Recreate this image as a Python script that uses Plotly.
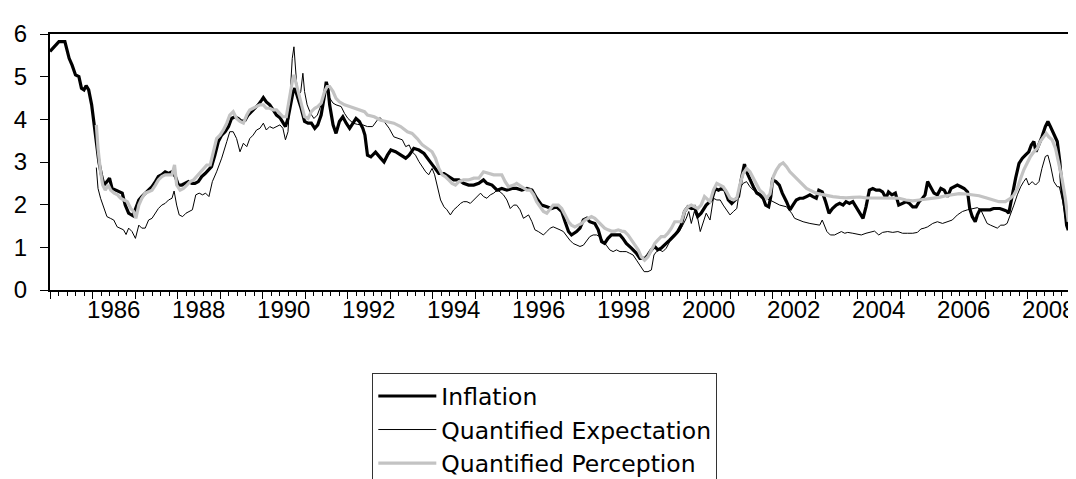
import plotly.graph_objects as go

# Inflation, survey-based quantified expectation and perception (monthly, % y/y)
# x values are decimal years

infl_t = [1985.00, 1985.21, 1985.35, 1985.45, 1985.52, 1985.60, 1985.68, 1985.74, 1985.80, 1985.85,
          1985.91, 1985.98, 1986.03, 1986.09, 1986.15, 1986.21, 1986.27, 1986.34, 1986.40, 1986.46,
          1986.54, 1986.62, 1986.70, 1986.77, 1986.85, 1986.95, 1987.01, 1987.09, 1987.16, 1987.24,
          1987.32, 1987.40, 1987.48, 1987.55, 1987.63, 1987.71, 1987.79, 1987.87, 1987.95, 1988.02,
          1988.10, 1988.18, 1988.26, 1988.34, 1988.41, 1988.49, 1988.57, 1988.65, 1988.73, 1988.80,
          1988.88, 1988.96, 1989.04, 1989.12, 1989.20, 1989.27, 1989.35, 1989.43, 1989.51, 1989.59,
          1989.66, 1989.74, 1989.82, 1989.90, 1989.98, 1990.02, 1990.09, 1990.17, 1990.25, 1990.33,
          1990.41, 1990.48, 1990.54, 1990.60, 1990.66, 1990.72, 1990.76, 1990.84, 1990.91, 1990.99,
          1991.07, 1991.15, 1991.23, 1991.30, 1991.38, 1991.46, 1991.50, 1991.54, 1991.58, 1991.66,
          1991.73, 1991.81, 1991.89, 1991.97, 1992.05, 1992.13, 1992.20, 1992.28, 1992.36, 1992.41,
          1992.47, 1992.55, 1992.66, 1992.78, 1992.86, 1992.94, 1993.02, 1993.13, 1993.25, 1993.37,
          1993.45, 1993.56, 1993.68, 1993.80, 1993.91, 1994.03, 1994.15, 1994.27, 1994.38, 1994.50,
          1994.62, 1994.73, 1994.85, 1994.97, 1995.09, 1995.20, 1995.28, 1995.40, 1995.52, 1995.63,
          1995.75, 1995.87, 1995.98, 1996.10, 1996.22, 1996.34, 1996.45, 1996.57, 1996.69, 1996.80,
          1996.92, 1997.04, 1997.12, 1997.20, 1997.27, 1997.39, 1997.47, 1997.55, 1997.63, 1997.70,
          1997.82, 1997.90, 1997.98, 1998.05, 1998.13, 1998.21, 1998.29, 1998.41, 1998.48, 1998.56,
          1998.68, 1998.80, 1998.88, 1999.00, 1999.07, 1999.15, 1999.23, 1999.30, 1999.38, 1999.46,
          1999.58, 1999.70, 1999.77, 1999.85, 1999.93, 2000.01, 2000.09, 2000.16, 2000.24, 2000.32,
          2000.44, 2000.57, 2000.65, 2000.73, 2000.80, 2000.88, 2000.96, 2001.04, 2001.12, 2001.20,
          2001.27, 2001.34, 2001.39, 2001.47, 2001.55, 2001.63, 2001.70, 2001.78, 2001.84, 2001.91,
          2001.96, 2002.00, 2002.08, 2002.16, 2002.23, 2002.33, 2002.41, 2002.48, 2002.56, 2002.64,
          2002.72, 2002.80, 2002.88, 2002.95, 2003.03, 2003.09, 2003.17, 2003.25, 2003.33, 2003.41,
          2003.50, 2003.58, 2003.66, 2003.73, 2003.81, 2003.89, 2003.97, 2004.05, 2004.13, 2004.20,
          2004.28, 2004.36, 2004.44, 2004.52, 2004.59, 2004.67, 2004.73, 2004.81, 2004.89, 2004.97,
          2005.06, 2005.14, 2005.22, 2005.30, 2005.38, 2005.45, 2005.53, 2005.59, 2005.65, 2005.73,
          2005.80, 2005.88, 2005.96, 2006.04, 2006.12, 2006.20, 2006.27, 2006.35, 2006.43, 2006.51,
          2006.59, 2006.64, 2006.70, 2006.77, 2006.82, 2006.88, 2006.96, 2007.04, 2007.12, 2007.20,
          2007.27, 2007.35, 2007.43, 2007.51, 2007.56, 2007.64, 2007.72, 2007.80, 2007.88, 2007.95,
          2008.03, 2008.09, 2008.15, 2008.20, 2008.27, 2008.34, 2008.42, 2008.48, 2008.54, 2008.62,
          2008.70, 2008.76, 2008.81, 2008.88, 2008.92, 2008.96]
infl_v = [5.59, 5.82, 5.82, 5.43, 5.27, 5.04, 5.00, 4.73, 4.69, 4.79,
          4.69, 4.34, 3.95, 3.48, 3.00, 2.70, 2.46, 2.54, 2.62, 2.38,
          2.34, 2.30, 2.27, 1.99, 1.80, 1.74, 1.91, 2.11, 2.19, 2.27,
          2.34, 2.42, 2.54, 2.66, 2.70, 2.77, 2.73, 2.77, 2.66, 2.46,
          2.46, 2.50, 2.54, 2.50, 2.50, 2.54, 2.66, 2.73, 2.81, 2.89,
          3.16, 3.48, 3.63, 3.71, 3.83, 4.02, 4.06, 4.02, 3.95, 3.98,
          4.10, 4.18, 4.26, 4.34, 4.45, 4.51, 4.41, 4.34, 4.22, 4.10,
          4.04, 3.91, 3.83, 4.02, 4.34, 4.65, 4.73, 4.49, 4.26, 3.95,
          3.91, 3.91, 3.79, 3.87, 4.10, 4.57, 4.88, 4.73, 4.34, 3.87,
          3.67, 3.95, 4.06, 3.91, 3.79, 3.91, 4.02, 3.95, 3.79, 3.63,
          3.16, 3.12, 3.23, 3.09, 3.00, 3.16, 3.28, 3.24, 3.16, 3.09,
          3.16, 3.32, 3.28, 3.20, 3.05, 2.89, 2.73, 2.73, 2.66, 2.58,
          2.58, 2.50, 2.46, 2.46, 2.50, 2.58, 2.50, 2.46, 2.34, 2.38,
          2.34, 2.38, 2.38, 2.34, 2.38, 2.34, 2.15, 1.99, 1.95, 1.91,
          1.95, 1.84, 1.60, 1.37, 1.29, 1.37, 1.45, 1.64, 1.68, 1.60,
          1.56, 1.41, 1.13, 1.09, 1.21, 1.29, 1.29, 1.29, 1.21, 1.09,
          0.98, 0.86, 0.74, 0.74, 0.82, 0.94, 1.02, 0.94, 0.98, 1.05,
          1.17, 1.29, 1.37, 1.52, 1.84, 1.95, 1.91, 1.95, 1.72, 1.80,
          1.99, 2.11, 2.38, 2.34, 2.38, 2.34, 2.11, 2.03, 2.11, 2.19,
          2.62, 2.95, 2.77, 2.58, 2.42, 2.27, 2.23, 2.15, 1.99, 1.95,
          2.19, 2.58, 2.54, 2.46, 2.27, 2.07, 1.88, 1.99, 2.11, 2.15,
          2.15, 2.19, 2.23, 2.19, 2.15, 2.34, 2.30, 2.07, 1.80, 1.91,
          1.99, 2.03, 1.99, 2.07, 2.03, 2.07, 1.95, 1.80, 1.68, 1.95,
          2.34, 2.38, 2.34, 2.34, 2.30, 2.15, 2.30, 2.23, 2.27, 1.99,
          2.03, 2.07, 2.03, 1.95, 1.95, 2.07, 2.15, 2.23, 2.54, 2.38,
          2.27, 2.23, 2.38, 2.34, 2.19, 2.38, 2.42, 2.46, 2.42, 2.38,
          2.30, 1.91, 1.72, 1.60, 1.76, 1.88, 1.88, 1.88, 1.88, 1.91,
          1.91, 1.91, 1.88, 1.85, 1.80, 2.23, 2.62, 2.97, 3.09, 3.16,
          3.24, 3.40, 3.48, 3.24, 3.40, 3.59, 3.83, 3.95, 3.83, 3.67,
          3.48, 3.01, 2.38, 1.91, 1.52, 1.40]

expc_t = [1986.09, 1986.13, 1986.19, 1986.27, 1986.34, 1986.42, 1986.50, 1986.58, 1986.66, 1986.73,
          1986.79, 1986.85, 1986.93, 1987.01, 1987.09, 1987.16, 1987.24, 1987.32, 1987.40, 1987.48,
          1987.55, 1987.63, 1987.71, 1987.79, 1987.87, 1987.92, 1987.98, 1988.04, 1988.12, 1988.20,
          1988.27, 1988.35, 1988.43, 1988.51, 1988.59, 1988.66, 1988.74, 1988.82, 1988.92, 1989.04,
          1989.16, 1989.23, 1989.31, 1989.39, 1989.47, 1989.55, 1989.63, 1989.70, 1989.78, 1989.86,
          1989.94, 1990.02, 1990.09, 1990.17, 1990.25, 1990.33, 1990.41, 1990.48, 1990.54, 1990.60,
          1990.66, 1990.70, 1990.74, 1990.80, 1990.85, 1990.90, 1990.95, 1990.99, 1991.05, 1991.13,
          1991.21, 1991.29, 1991.38, 1991.46, 1991.50, 1991.56, 1991.66, 1991.73, 1991.85, 1991.93,
          1992.01, 1992.13, 1992.24, 1992.36,
          1992.47, 1992.59, 1992.70, 1992.76, 1992.86, 1992.98, 1993.09, 1993.21, 1993.29, 1993.37,
          1993.45, 1993.52, 1993.60, 1993.68, 1993.76, 1993.84, 1993.91, 1993.99, 1994.05, 1994.11,
          1994.19, 1994.27, 1994.34, 1994.42, 1994.50, 1994.58, 1994.66, 1994.73, 1994.81, 1994.89,
          1994.97, 1995.05, 1995.13, 1995.20, 1995.28, 1995.36, 1995.44, 1995.52, 1995.59, 1995.67,
          1995.75, 1995.83, 1995.91, 1995.98, 1996.06, 1996.14, 1996.26, 1996.34, 1996.41, 1996.49,
          1996.61, 1996.69, 1996.77, 1996.84, 1996.92, 1997.00, 1997.08, 1997.16, 1997.23, 1997.31,
          1997.39, 1997.47, 1997.55, 1997.63, 1997.70, 1997.78, 1997.86, 1997.94, 1998.02, 1998.09,
          1998.17, 1998.25, 1998.33, 1998.41, 1998.48, 1998.56, 1998.64, 1998.72, 1998.80, 1998.88,
          1998.98, 1999.07, 1999.15, 1999.21, 1999.27, 1999.34, 1999.42, 1999.50, 1999.58, 1999.66,
          1999.73, 1999.81, 1999.89, 1999.97, 2000.03, 2000.09, 2000.16, 2000.24, 2000.30, 2000.38,
          2000.44,
          2000.53, 2000.61, 2000.69, 2000.77, 2000.84, 2000.92, 2001.00, 2001.08, 2001.16, 2001.23,
          2001.31, 2001.39, 2001.47, 2001.55, 2001.63, 2001.70, 2001.78, 2001.86, 2001.94, 2002.02,
          2002.17, 2002.33, 2002.45, 2002.52, 2002.72, 2002.88, 2003.03, 2003.11, 2003.17, 2003.23,
          2003.28, 2003.36, 2003.46, 2003.54, 2003.62, 2003.70, 2003.77, 2003.89, 2004.01, 2004.09,
          2004.20, 2004.32, 2004.40, 2004.50, 2004.59, 2004.71, 2004.83, 2004.95, 2005.06, 2005.18,
          2005.30, 2005.41, 2005.49, 2005.57, 2005.65, 2005.77, 2005.88, 2006.00, 2006.12, 2006.23,
          2006.35, 2006.47, 2006.59, 2006.70, 2006.82, 2006.90, 2006.98, 2007.05, 2007.13, 2007.21,
          2007.29, 2007.37, 2007.45, 2007.52, 2007.60, 2007.68, 2007.76, 2007.84, 2007.91, 2007.97,
          2008.03, 2008.11, 2008.19, 2008.27, 2008.34, 2008.42, 2008.48, 2008.54, 2008.62, 2008.70,
          2008.75, 2008.83, 2008.89, 2008.96]
expc_v = [2.87, 2.38, 2.15, 1.91, 1.72, 1.68, 1.64, 1.48, 1.45, 1.41,
          1.30, 1.45, 1.37, 1.21, 1.52, 1.45, 1.45, 1.64, 1.68, 1.80,
          1.91, 1.99, 2.03, 2.11, 2.15, 2.32, 1.99, 1.76, 1.72, 1.80,
          1.84, 1.88, 2.23, 2.27, 2.23, 2.27, 2.19, 2.54, 2.77, 3.09,
          3.48, 3.71, 3.71, 3.55, 3.24, 3.44, 3.36, 3.55, 3.63, 3.75,
          3.79, 3.91, 3.75, 3.83, 3.79, 3.83, 3.87, 3.79, 3.52, 3.71,
          4.73, 5.43, 5.70, 4.88, 4.57, 4.65, 5.08, 4.65, 4.34, 4.14,
          4.02, 4.10, 4.34, 4.65, 4.73, 4.53, 4.38, 4.34, 4.30, 4.14,
          4.02, 3.91, 3.88, 3.87,
          3.83, 3.83, 3.98, 4.04, 3.95, 3.79, 3.59, 3.55, 3.52, 3.36,
          3.40, 3.24, 3.16, 3.01, 2.89, 2.77, 2.70, 2.85, 2.70, 2.46,
          2.11, 1.95, 1.88, 1.76, 1.88, 1.95, 2.03, 2.07, 2.07, 2.03,
          2.11, 2.19, 2.27, 2.19, 2.15, 2.23, 2.27, 2.34, 2.30, 2.23,
          2.11, 1.91, 1.99, 1.99, 1.88, 1.68, 1.76, 1.60, 1.41, 1.37,
          1.29, 1.37, 1.45, 1.48, 1.45, 1.41, 1.37, 1.25, 1.17, 1.09,
          1.05, 1.02, 1.05, 1.17, 1.25, 1.29, 1.29, 1.25, 1.13, 1.05,
          0.94, 0.90, 0.94, 0.90, 0.90, 0.90, 0.86, 0.82, 0.70, 0.59,
          0.43, 0.43, 0.47, 0.82, 0.90, 0.94, 0.90, 0.98, 1.13, 1.21,
          1.29, 1.37, 1.52, 1.68, 1.84, 1.56, 1.84, 1.68, 1.37, 1.60,
          1.80,
          1.64, 2.15, 2.11, 2.11, 1.99, 1.88, 1.76, 1.84, 1.91, 2.38,
          2.50, 2.54, 2.42, 2.34, 2.30, 2.27, 2.19, 2.15, 2.11, 2.07,
          1.99, 1.95, 1.80, 1.68, 1.60, 1.56, 1.54, 1.52, 1.64, 1.48,
          1.37, 1.29, 1.29, 1.33, 1.37, 1.33, 1.35, 1.33, 1.30, 1.29,
          1.33, 1.35, 1.38, 1.29, 1.35, 1.37, 1.35, 1.37, 1.33, 1.33,
          1.33, 1.35, 1.43, 1.45, 1.48, 1.56, 1.60, 1.56, 1.60, 1.64,
          1.76, 1.84, 1.88, 1.91, 1.93, 1.88, 1.72, 1.56, 1.52, 1.48,
          1.45, 1.52, 1.52, 1.56, 1.76, 1.99, 2.23, 2.42, 2.54, 2.62,
          2.46, 2.54, 2.46, 2.54, 2.85, 3.13, 3.16, 2.93, 2.54, 2.42,
          2.42, 2.07, 1.68, 1.41]

perc_t = [1986.09, 1986.13, 1986.19, 1986.24, 1986.30, 1986.37, 1986.43, 1986.51, 1986.59, 1986.66,
          1986.74, 1986.82, 1986.90, 1986.97, 1987.02, 1987.09, 1987.16, 1987.24, 1987.32, 1987.40,
          1987.48, 1987.55, 1987.63, 1987.71, 1987.79, 1987.87, 1987.93, 1987.98, 1988.06, 1988.14,
          1988.22, 1988.30, 1988.38, 1988.45, 1988.53, 1988.61, 1988.69, 1988.77, 1988.84, 1988.92,
          1989.00, 1989.08, 1989.16, 1989.23, 1989.31, 1989.39, 1989.47, 1989.55, 1989.63, 1989.70,
          1989.78, 1989.86, 1989.94, 1990.02, 1990.09, 1990.17, 1990.25, 1990.33, 1990.41, 1990.48,
          1990.56, 1990.64, 1990.70, 1990.74, 1990.80, 1990.85, 1990.91, 1990.99, 1991.07, 1991.15,
          1991.23, 1991.30, 1991.38, 1991.46, 1991.52, 1991.58, 1991.66, 1991.73, 1991.81, 1991.93,
          1992.05, 1992.16, 1992.28, 1992.40,
          1992.47, 1992.63, 1992.78, 1992.94, 1993.09, 1993.25, 1993.41, 1993.52, 1993.64, 1993.76,
          1993.88, 1993.99, 1994.07, 1994.15, 1994.23, 1994.30, 1994.38, 1994.46, 1994.54, 1994.62,
          1994.73, 1994.85, 1994.97, 1995.09, 1995.20, 1995.32, 1995.44, 1995.55, 1995.63, 1995.71,
          1995.79, 1995.91, 1995.98, 1996.10, 1996.22, 1996.30, 1996.38, 1996.45, 1996.53, 1996.61,
          1996.69, 1996.77, 1996.84, 1996.96, 1997.04, 1997.12, 1997.20, 1997.27, 1997.35, 1997.43,
          1997.51, 1997.59, 1997.66, 1997.74, 1997.82, 1997.90, 1997.98, 1998.05, 1998.13, 1998.21,
          1998.29, 1998.37, 1998.45, 1998.52, 1998.60, 1998.68, 1998.76, 1998.84, 1998.91, 1998.99,
          1999.07, 1999.15, 1999.23, 1999.30, 1999.38, 1999.46, 1999.54, 1999.62, 1999.70, 1999.77,
          1999.85, 1999.93, 2000.01, 2000.09, 2000.16, 2000.24, 2000.32, 2000.40,
          2000.53, 2000.61, 2000.69, 2000.77, 2000.84, 2000.92, 2001.00, 2001.08, 2001.16, 2001.23,
          2001.31, 2001.39, 2001.47, 2001.55, 2001.63, 2001.70, 2001.78, 2001.86, 2001.94, 2002.02,
          2002.09, 2002.17, 2002.25, 2002.33, 2002.41, 2002.48, 2002.56, 2002.64, 2002.72, 2002.80,
          2002.88, 2002.95, 2003.03, 2003.15, 2003.27, 2003.42, 2003.58, 2003.73, 2003.89, 2004.05,
          2004.20, 2004.36, 2004.52, 2004.67, 2004.83, 2004.98, 2005.14, 2005.30, 2005.45, 2005.61,
          2005.77, 2005.92, 2006.08, 2006.23, 2006.39, 2006.55, 2006.70, 2006.86, 2007.02, 2007.17,
          2007.33, 2007.48, 2007.60, 2007.68, 2007.76, 2007.84, 2007.91, 2007.99, 2008.07, 2008.15,
          2008.23, 2008.30, 2008.38, 2008.44, 2008.50, 2008.58, 2008.66, 2008.73, 2008.81, 2008.89,
          2008.96]
perc_v = [3.87, 3.32, 2.77, 2.46, 2.34, 2.46, 2.34, 2.27, 2.23, 2.15,
          2.11, 2.07, 1.91, 1.84, 1.68, 1.99, 2.15, 2.27, 2.30, 2.34,
          2.46, 2.58, 2.66, 2.70, 2.70, 2.70, 2.93, 2.46, 2.34, 2.38,
          2.46, 2.54, 2.58, 2.66, 2.77, 2.85, 2.93, 2.93, 3.24, 3.55,
          3.63, 3.75, 3.91, 4.10, 4.18, 4.02, 3.95, 3.91, 4.10, 4.22,
          4.26, 4.30, 4.34, 4.34, 4.26, 4.26, 4.22, 4.22, 4.14, 4.06,
          4.06, 4.57, 4.88, 5.04, 4.80, 4.57, 4.34, 4.06, 4.02, 4.18,
          4.26, 4.30, 4.38, 4.65, 4.77, 4.77, 4.65, 4.49, 4.41, 4.34,
          4.30, 4.26, 4.22, 4.18,
          4.10, 4.06, 3.98, 3.95, 3.91, 3.83, 3.71, 3.67, 3.55, 3.40,
          3.32, 3.24, 3.09, 2.85, 2.70, 2.66, 2.58, 2.50, 2.46, 2.54,
          2.58, 2.58, 2.62, 2.62, 2.77, 2.73, 2.70, 2.70, 2.70, 2.54,
          2.42, 2.46, 2.50, 2.42, 2.34, 2.34, 2.23, 2.07, 1.95, 1.84,
          1.80, 1.91, 1.99, 1.99, 1.91, 1.76, 1.60, 1.52, 1.48, 1.52,
          1.56, 1.64, 1.68, 1.72, 1.68, 1.60, 1.52, 1.45, 1.41, 1.38,
          1.38, 1.41, 1.38, 1.37, 1.29, 1.17, 1.05, 0.94, 0.78, 0.70,
          0.78, 0.94, 1.09, 1.17, 1.25, 1.25, 1.33, 1.45, 1.60, 1.60,
          1.60, 1.84, 1.95, 1.99, 1.95, 1.91, 1.99, 2.19,
          2.07, 2.34, 2.50, 2.46, 2.42, 2.30, 2.15, 2.11, 2.15, 2.46,
          2.73, 2.85, 2.77, 2.62, 2.46, 2.34, 2.27, 2.15, 2.25, 2.66,
          2.81, 2.93, 2.98, 2.89, 2.77, 2.70, 2.62, 2.54, 2.46, 2.38,
          2.34, 2.30, 2.27, 2.24, 2.21, 2.19, 2.17, 2.16, 2.17, 2.18,
          2.16, 2.16, 2.15, 2.15, 2.15, 2.15, 2.11, 2.09, 2.11, 2.13,
          2.15, 2.17, 2.21, 2.24, 2.26, 2.25, 2.23, 2.21, 2.16, 2.11,
          2.07, 2.07, 2.15, 2.23, 2.38, 2.62, 2.81, 2.97, 3.13, 3.24,
          3.32, 3.48, 3.59, 3.67, 3.59, 3.52, 3.32, 3.01, 2.62, 2.15,
          1.60]

year_labels = [str(y) for y in range(1986, 2009, 2)]
label_pos = [y + 0.5 for y in range(1986, 2009, 2)]

BLACK = "#000000"
GREY = "#c3c3c3"
TICK_FONT = "Liberation Sans Narrow, Liberation Sans, Arial, sans-serif"
LEGEND_FONT = "DejaVu Sans"

fig = go.Figure()

fig.add_trace(go.Scatter(
    x=infl_t, y=infl_v, mode="lines", name="Inflation",
    line=dict(color=BLACK, width=3.2),
))
fig.add_trace(go.Scatter(
    x=expc_t, y=expc_v, mode="lines", name="Quantified Expectation",
    line=dict(color=BLACK, width=1),
))
# perception sits on the overlay axis that carries the year labels
fig.add_trace(go.Scatter(
    x=perc_t, y=perc_v, mode="lines", name="Quantified Perception",
    line=dict(color=GREY, width=3.2), xaxis="x2",
))

fig.update_layout(
    width=1076, height=479,
    paper_bgcolor="white", plot_bgcolor="white",
    font=dict(family=TICK_FONT, size=24, color=BLACK),
    margin=dict(l=42, r=14, t=26, b=197, autoexpand=False),
    showlegend=True,
    legend=dict(
        x=0.316, y=-0.325, xanchor="left", yanchor="top",
        bgcolor="white", bordercolor="#333333", borderwidth=1,
        font=dict(family=LEGEND_FONT, size=23.5, color=BLACK),
        itemwidth=58, tracegroupgap=0,
    ),
    xaxis=dict(
        range=[1985, 2009], tickmode="linear", tick0=1985, dtick=1,
        ticks="outside", ticklen=7, tickwidth=1, tickcolor=BLACK,
        showticklabels=False,
        minor=dict(ticks="outside", ticklen=4, tickwidth=1, tickcolor=BLACK,
                   tick0=1985, dtick=0.2, showgrid=False),
        showline=True, linewidth=2, linecolor=BLACK, mirror=True,
        showgrid=False, zeroline=False,
    ),
    xaxis2=dict(
        overlaying="x", matches="x", anchor="y", side="bottom",
        range=[1985, 2009], tickmode="array",
        tickvals=label_pos, ticktext=year_labels,
        ticks="", ticklen=0, ticklabelstandoff=3,
        tickfont=dict(family=TICK_FONT, size=24, color=BLACK),
        showline=False, showgrid=False, zeroline=False,
    ),
    yaxis=dict(
        range=[0, 6], tickmode="linear", tick0=0, dtick=1,
        ticks="outside", ticklen=8, tickwidth=1, tickcolor=BLACK,
        tickfont=dict(family=TICK_FONT, size=24, color=BLACK),
        ticklabelstandoff=8,
        showline=True, linewidth=2, linecolor=BLACK, mirror=True,
        showgrid=False, zeroline=False,
    ),
)

fig.write_html("out.html")
